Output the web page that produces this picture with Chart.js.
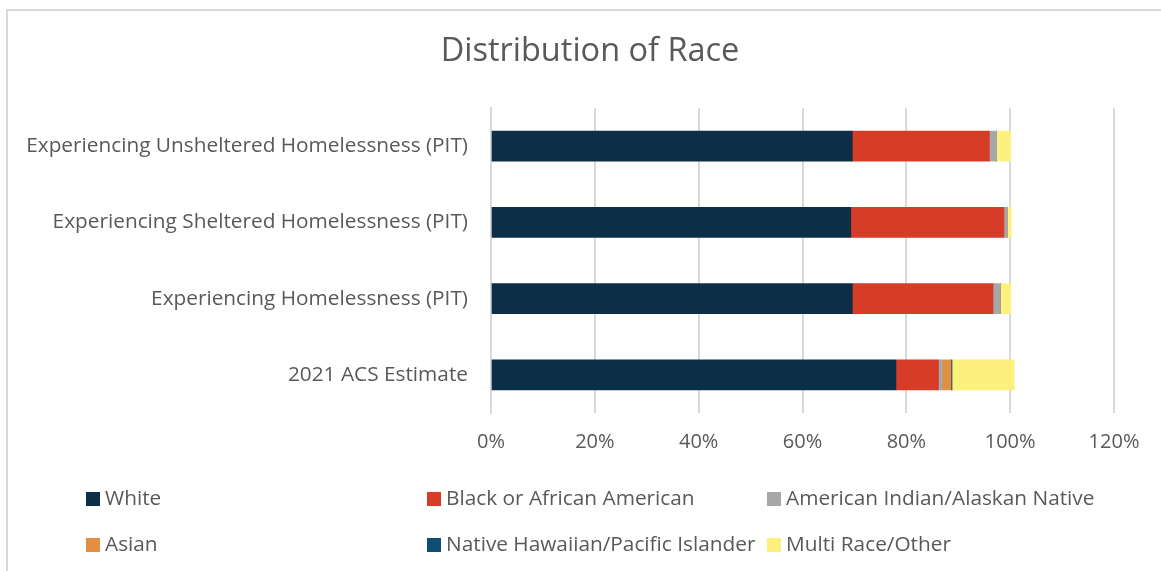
<!DOCTYPE html>
<html>
<head>
<meta charset="utf-8">
<script src="https://cdn.jsdelivr.net/npm/chart.js"></script>
<style>
  body { margin: 0; background: #fff; }
  #wrap { position: relative; width: 1161px; height: 571px; overflow: hidden; }
  #frame { position: absolute; left: 6px; top: 9px; width: 1200px; height: 600px; border-left: 2px solid #d9d9d9; border-top: 2px solid #d9d9d9; }
  #legend { position: absolute; left: 0; top: 0; width: 1161px; height: 571px; pointer-events: none;
    font-family: "Open Sans", sans-serif; font-size: 20.8px; color: #595959; }
  .item { position: absolute; white-space: nowrap; line-height: 20px; }
  .box { display: inline-block; width: 14px; height: 14px; margin-right: 5px; vertical-align: -1px; }
</style>
</head>
<body>
<div id="wrap">
  <div id="frame"></div>
  <canvas id="chart" width="1161" height="571"></canvas>
  <div id="legend"></div>
</div>
<script>
// Categories (top to bottom)
const categories = [
  "Experiencing Unsheltered Homelessness (PIT)",
  "Experiencing Sheltered Homelessness (PIT)",
  "Experiencing Homelessness (PIT)",
  "2021 ACS Estimate"
];

// Series values (fractions)
const white = [0.696, 0.693, 0.696, 0.780];
const black = [0.264, 0.295, 0.271, 0.082];
const aian = [0.014, 0.006, 0.014, 0.007];
const asian = [0.000, 0.000, 0.000, 0.017];
const nhpi = [0.000, 0.000, 0.000, 0.002];
const multi = [0.027, 0.008, 0.020, 0.120];

const seriesNames = ["White", "Black or African American", "American Indian/Alaskan Native",
  "Asian", "Native Hawaiian/Pacific Islander", "Multi Race/Other"];
const seriesColors = ["#0c2e47", "#d63c27", "#a7a7aa", "#e08f43", "#0f4e72", "#fdf07d"];
const seriesData = [white, black, aian, asian, nhpi, multi];

const tickValues = [0, 0.2, 0.4, 0.6, 0.8, 1.0, 1.2];
const chartTitle = 'Distribution of Race';

const FONT = "'Open Sans', sans-serif";

const datasets = seriesNames.map((name, i) => ({
  label: name,
  data: seriesData[i],
  backgroundColor: seriesColors[i],
  borderWidth: 0,
  barThickness: 30
}));

// Title drawn centred on the whole chart frame, like the Excel original
const titlePlugin = {
  id: 'frameTitle',
  afterDraw(chart) {
    const ctx = chart.ctx;
    ctx.save();
    ctx.font = '32.5px ' + FONT;
    ctx.fillStyle = '#595959';
    ctx.textAlign = 'center';
    ctx.textBaseline = 'middle';
    ctx.fillText(chartTitle, 590, 52);
    ctx.restore();
  }
};

new Chart(document.getElementById('chart'), {
  type: 'bar',
  data: { labels: categories, datasets: datasets },
  plugins: [titlePlugin],
  options: {
    indexAxis: 'y',
    responsive: false,
    animation: false,
    layout: { padding: { left: 10, right: 47, top: 108, bottom: 108 } },
    plugins: {
      legend: { display: false },
      tooltip: { enabled: false }
    },
    scales: {
      x: {
        stacked: true,
        min: 0,
        max: 1.2,
        afterBuildTicks: (scale) => { scale.ticks = tickValues.map(v => ({ value: v })); },
        afterFit: (scale) => { scale.height = 50; },
        ticks: {
          color: '#595959',
          font: { family: FONT, size: 20 },
          padding: 17,
          callback: (v) => Math.round(v * 100) + '%'
        },
        grid: { color: '#d9d9d9', lineWidth: 2, drawTicks: false },
        border: { display: false }
      },
      y: {
        stacked: true,
        afterFit: (scale) => { scale.width = 481; },
        ticks: {
          color: '#595959',
          font: { family: FONT, size: 20.8 },
          padding: 15
        },
        grid: { display: false },
        border: { color: '#d9d9d9', width: 2 }
      }
    }
  }
});

// HTML legend laid out in a 3-column grid
const legend = document.getElementById('legend');
const colX = [86, 427, 767];
const rowY = [487, 533];
seriesNames.forEach((name, i) => {
  const d = document.createElement('div');
  d.className = 'item';
  d.style.left = colX[i % 3] + 'px';
  d.style.top = rowY[Math.floor(i / 3)] + 'px';
  d.innerHTML = '<span class="box" style="background:' + seriesColors[i] + '"></span>' + name;
  legend.appendChild(d);
});
</script>
</body>
</html>
